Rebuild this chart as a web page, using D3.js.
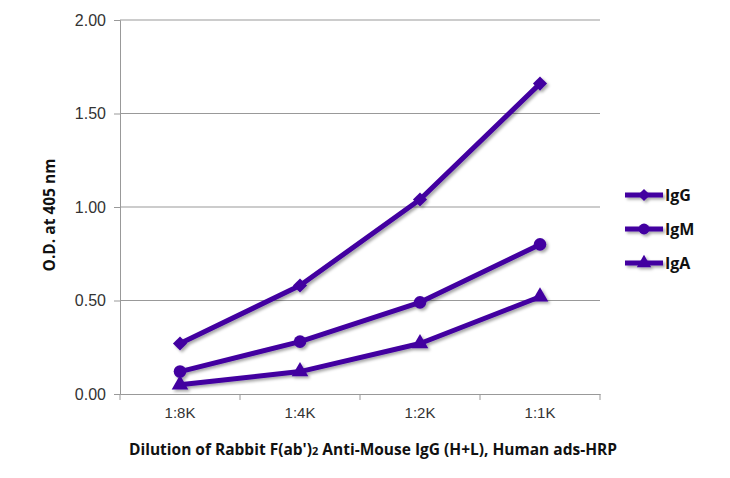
<!DOCTYPE html>
<html><head><meta charset="utf-8">
<script src="https://cdn.jsdelivr.net/npm/d3@7"></script>
<style>body{margin:0;background:#fff;} svg{display:block;font-family:"Open Sans","Noto Sans",sans-serif;}</style>
</head><body>
<svg id="c" width="730" height="478"></svg>
<script>
const categories = ["1:8K","1:4K","1:2K","1:1K"];
const igG = [0.27, 0.58, 1.04, 1.66];
const igM = [0.12, 0.28, 0.49, 0.80];
const igA = [0.05, 0.12, 0.27, 0.52];
const seriesNames = ["IgG","IgM","IgA"];
const yTicks = [0, 0.5, 1.0, 1.5, 2.0];

const series = [
  {name: seriesNames[0], values: igG, kind: "diamond"},
  {name: seriesNames[1], values: igM, kind: "circle"},
  {name: seriesNames[2], values: igA, kind: "triangle"}
];
const color = "#4200a0";
const svg = d3.select("#c");
const m = {l:120, r:600, t:20, b:394};
const x = d3.scaleBand().domain(categories).range([m.l, m.r]);
const y = d3.scaleLinear().domain([0,2]).range([m.b, m.t]);

function sym(kind, scale){
  if(kind==="diamond") return {d: d3.symbol().type(d3.symbolSquare).size(100*scale)(), rot:45};
  if(kind==="circle") return {d: d3.symbol().type(d3.symbolCircle).size(125*scale)(), rot:0};
  return {d: d3.symbol().type(d3.symbolTriangle).size(120*scale)(), rot:0};
}

const defs = svg.append("defs");
const f = defs.append("filter").attr("id","sh").attr("x","-20%").attr("y","-20%").attr("width","140%").attr("height","140%");
f.append("feDropShadow").attr("dx",2).attr("dy",2).attr("stdDeviation",1.5).attr("flood-color","#000").attr("flood-opacity",0.35);

// gridlines
svg.append("g").selectAll("line").data(yTicks.filter(d=>d>0)).join("line")
  .attr("x1", m.l).attr("x2", m.r).attr("y1", d=>y(d)).attr("y2", d=>y(d))
  .attr("stroke","#999").attr("stroke-width",1);

// y axis
const ya = svg.append("g").attr("transform",`translate(${m.l},0)`)
  .call(d3.axisLeft(y).tickValues(yTicks).tickFormat(d3.format(".2f")).tickSize(6).tickPadding(8));
ya.select(".domain").attr("stroke","#999");
ya.selectAll(".tick line").attr("stroke","#999");
ya.selectAll("text").attr("font-size",16).attr("fill","#333");

// x axis
const xa = svg.append("g").attr("transform",`translate(0,${m.b})`)
  .call(d3.axisBottom(x).tickSize(0).tickPadding(13));
xa.select(".domain").attr("stroke","#999");
xa.selectAll("text").attr("font-size",15).attr("fill","#333");
const bounds = [m.l, ...categories.map(c=>x(c)+x.bandwidth())];
svg.append("g").selectAll("line").data(bounds).join("line")
  .attr("x1",d=>d).attr("x2",d=>d).attr("y1",m.b).attr("y2",m.b+6)
  .attr("stroke","#999");

// lines
const line = d3.line().x((d,i)=>x(categories[i])+x.bandwidth()/2).y(d=>y(d));
const g = svg.append("g").attr("filter","url(#sh)");
series.forEach(s=>{
  g.append("path").attr("d", line(s.values)).attr("fill","none").attr("stroke",color).attr("stroke-width",5).attr("stroke-linejoin","round");
  const sp = sym(s.kind,1);
  g.selectAll(null).data(s.values).join("path")
    .attr("d", sp.d)
    .attr("transform",(d,i)=>`translate(${x(categories[i])+x.bandwidth()/2},${y(d)}) rotate(${sp.rot})`)
    .attr("fill",color);
});

// legend
const lg = svg.append("g").attr("filter","url(#sh)");
series.forEach((s,i)=>{
  const ly = 195 + i*34;
  lg.append("line").attr("x1",625).attr("x2",663).attr("y1",ly).attr("y2",ly).attr("stroke",color).attr("stroke-width",5);
  const sp = sym(s.kind,0.75);
  lg.append("path").attr("d", sp.d).attr("transform",`translate(644,${ly}) rotate(${sp.rot})`).attr("fill",color);
});
series.forEach((s,i)=>{
  const ly = 195 + i*34;
  svg.append("text").attr("x",665).attr("y",ly+6).text(s.name).attr("font-size",16).attr("font-weight","bold").attr("fill","#111");
});

// titles
svg.append("text").attr("transform",`translate(55,${(m.t+m.b)/2 + 8}) rotate(-90)`).attr("text-anchor","middle")
  .attr("font-size",15.5).attr("font-weight","bold").attr("fill","#111").text("O.D. at 405 nm");
svg.append("text").attr("x",373).attr("y",455).attr("text-anchor","middle")
  .attr("font-size",15.5).attr("font-weight","bold").attr("fill","#111")
  .html("Dilution of Rabbit F(ab')<tspan font-size='11'>2</tspan> Anti-Mouse IgG (H+L), Human ads-HRP");
</script>
</body></html>
